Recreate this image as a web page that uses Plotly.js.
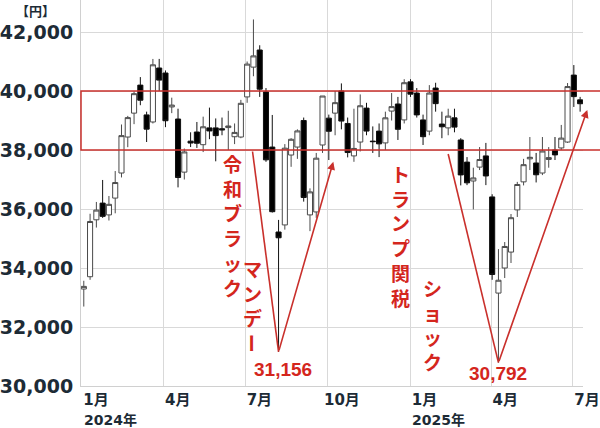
<!DOCTYPE html>
<html>
<head>
<meta charset="utf-8">
<script src="https://cdn.plot.ly/plotly-3.0.1.min.js"></script>
<style>
  html, body { margin: 0; padding: 0; background: #ffffff; }
  #chart { width: 600px; height: 428px; }
</style>
</head>
<body>
<div id="chart"></div>
<script>
// Nikkei 225, weekly candles (mid-week date of each trading week)
const weeks = [
  '2024-01-03','2024-01-10','2024-01-17','2024-01-24','2024-01-31',
  '2024-02-07','2024-02-14','2024-02-21','2024-02-28',
  '2024-03-06','2024-03-13','2024-03-20','2024-03-27',
  '2024-04-03','2024-04-10','2024-04-17','2024-04-24',
  '2024-05-01','2024-05-08','2024-05-15','2024-05-22','2024-05-29',
  '2024-06-05','2024-06-12','2024-06-19','2024-06-26',
  '2024-07-03','2024-07-10','2024-07-17','2024-07-24','2024-07-31',
  '2024-08-07','2024-08-14','2024-08-21','2024-08-28',
  '2024-09-04','2024-09-11','2024-09-18','2024-09-25',
  '2024-10-02','2024-10-09','2024-10-16','2024-10-23','2024-10-30',
  '2024-11-06','2024-11-13','2024-11-20','2024-11-27',
  '2024-12-04','2024-12-11','2024-12-18','2024-12-25',
  '2025-01-01','2025-01-08','2025-01-15','2025-01-22','2025-01-29',
  '2025-02-05','2025-02-12','2025-02-19','2025-02-26',
  '2025-03-05','2025-03-12','2025-03-19','2025-03-26',
  '2025-04-02','2025-04-09','2025-04-16','2025-04-23','2025-04-30',
  '2025-05-07','2025-05-14','2025-05-21','2025-05-28',
  '2025-06-04','2025-06-11','2025-06-18','2025-06-25',
  '2025-07-02','2025-07-09'
];
const openPx = [
  33288,33704,35634,36200,35800, 36370,37220,38440,39250, 40200,39190,38950,40780,
  40610,39460,39050,37250, 38300,38610,38180,38750,38750, 38720,38760,38450,38440,
  39800,40810,41390,39970,38100, 35220,35460,37830,38100, 39000,35800,35900,38170,
  39080,39250,40000,38900,37800, 38270,39420,38300,38640, 38240,39320,39560,39020,
  40310,39930,39020,38640,40100, 38880,38750,39090,38340, 37590,36950,37420,37800,
  36410,33150,34000,34540,35970, 36920,37700,37560,37220, 37680,38000,38070,38270,
  40540,39700
];
const highPx = [
  33568,35839,36239,36984,36441, 37287,38865,39156,39990, 40472,39300,41087,41088,
  40697,39774,39400,38050, 38600,38950,39130,39437,39070, 39100,39330,38900,39700,
  41000,42426,41550,40100,39188, 35630,38200,38400,38700, 39100,36700,37900,39830,
  39200,40000,40257,39100,39400, 39884,39600,38800,38900, 39300,39930,39800,40400,
  40400,40100,39200,40200,40280, 39300,39400,39400,38400, 37760,37400,38100,38240,
  36500,34640,34880,35830,36920, 37700,38440,37900,38440, 38100,38440,38850,40270,
  40880,39800
];
const lowPx = [
  32693,33600,35371,35700,35610, 35854,37070,38095,38876, 39518,38271,38900,40000,
  38774,39250,36733,37000, 38100,38070,37930,38367,37617, 38500,38000,38200,38400,
  39600,40500,39800,37600,35880, 31156,35300,37430,37700, 36250,35250,35700,37900,
  37660,38500,38700,37750,37600, 37950,38500,37900,37760, 38000,39000,38340,38900,
  39800,39100,38170,38500,39300, 38400,38500,38600,36800, 36810,35987,37320,36810,
  33600,30792,33660,34170,35730, 36800,37320,36900,37150, 37400,37660,38000,38240,
  39460,39300
];
const closePx = [
  33377,35577,35963,35751,36158, 36897,38487,39098,39910, 39688,38707,40888,40369,
  38992,39523,37068,37934, 38236,38229,38787,38646,38487, 38683,38814,38596,39583,
  40912,41190,40063,37667,35909, 35025,38062,38364,38647, 36391,36581,37723,39830,
  38635,39605,38981,37914,38053, 39500,38642,38284,38208, 39091,39470,38702,40281,
  39894,39190,38451,39931,39572, 38787,39149,38776,37155, 36887,37053,37677,37120,
  33780,33586,34730,35705,36831, 37503,37753,37160,37965, 37742,37834,38403,40150,
  39810,39569
];

// axis ticks
const monthTicks = ['2024-01-01','2024-04-01','2024-07-01','2024-10-01','2025-01-01','2025-04-01','2025-07-01'];
const monthText  = ['1月','4月','7月','10月','1月','4月','7月'];
const yearTicks  = ['2024-01-01','2025-01-01'];
const yearText   = ['2024年','2025年'];
const priceTicks = [30000,32000,34000,36000,38000,40000,42000];

// resistance band and the two sell-offs
const bandLow = 38000, bandHigh = 40000;
const selloffs = [
  { from: ['2024-07-09', 37950], low: ['2024-08-07', 31156], to: ['2024-10-07', 37600] },
  { from: ['2025-02-12', 37865], low: ['2025-04-09', 30792], to: ['2025-07-17', 39360] }
];

const RED_LINE = '#c9302c';
const RED_TEXT = '#d4261d';
const INK = '#1d2b36';

const margin = { l: 81, r: 17, t: 0, b: 42 };
const xRange = ['2023-12-30 21:16', '2025-07-12 05:00'];
const yRange = [30000, 43085];
const W = 600 - margin.l - margin.r;
const H = 428 - margin.t - margin.b;

const ms = s => Date.parse(s.replace(' ', 'T') + (s.length > 10 ? ':00Z' : 'T00:00:00Z'));
const X0 = ms(xRange[0]), X1 = ms(xRange[1]);
const toPaper = d => (ms(d) - X0) / (X1 - X0);
const pxX = d => toPaper(d) * W;
const pxY = v => (v - yRange[0]) / (yRange[1] - yRange[0]) * H;

const candles = {
  type: 'candlestick',
  x: weeks, open: openPx, high: highPx, low: lowPx, close: closePx,
  increasing: { line: { color: '#4a4a4a', width: 1 }, fillcolor: '#ffffff' },
  decreasing: { line: { color: '#111111', width: 1 }, fillcolor: '#000000' },
  whiskerwidth: 0,
  hoverinfo: 'skip',
  showlegend: false
};

const shapes = [
  { type: 'rect', xref: 'paper', yref: 'y', x0: 0, x1: 1.2, y0: bandLow, y1: bandHigh,
    line: { color: RED_LINE, width: 1.5 }, fillcolor: 'rgba(0,0,0,0)' }
];
const annotations = [];

selloffs.forEach(s => {
  shapes.push({ type: 'line', xref: 'paper', yref: 'y',
    x0: toPaper(s.from[0]), y0: s.from[1], x1: toPaper(s.low[0]), y1: s.low[1],
    line: { color: RED_LINE, width: 1.6 } });
  annotations.push({ xref: 'paper', yref: 'y', x: toPaper(s.to[0]), y: s.to[1], text: '',
    showarrow: true, arrowhead: 2, arrowsize: 1, arrowwidth: 1.6, arrowcolor: RED_LINE,
    standoff: 0, startstandoff: 0,
    ax: pxX(s.low[0]) - pxX(s.to[0]), ay: pxY(s.to[1]) - pxY(s.low[1]) });
});

const redFont = (size) => ({ family: 'Noto Sans CJK JP, sans-serif', size: size, color: RED_TEXT, weight: 700 });
const numFont = { family: 'Liberation Sans, Arial, sans-serif', size: 19, color: RED_TEXT, weight: 700 };
const vertical = str => Array.from(str).join('<br>');

function label(text, date, value, size, extra) {
  annotations.push(Object.assign({ xref: 'paper', yref: 'y', x: toPaper(date), y: value,
    text: text, showarrow: false, xanchor: 'center', yanchor: 'middle',
    font: redFont(size) }, extra || {}));
}

label(vertical('令和ブラック'), '2024-06-17', 35440, 19);
label(vertical('マンデ'), '2024-07-09', 33150, 19);
label('ー', '2024-07-09', 31450, 19, { textangle: 90 });
label(vertical('トランプ関税'), '2024-12-21', 35100, 19);
label(vertical('ショック'), '2025-01-25', 32100, 19);

const fmt = v => v.toLocaleString('en-US');
label(fmt(selloffs[0].low[1]), '2024-08-12', 30560, 19, { font: numFont });
label(fmt(selloffs[1].low[1]), '2025-04-08', 30425, 19, { font: numFont });

yearTicks.forEach((d, i) => {
  annotations.push({ xref: 'x', yref: 'paper', x: d, y: 0, yshift: -34,
    xanchor: 'left', yanchor: 'middle', showarrow: false, text: yearText[i],
    font: { family: 'DejaVu Sans, Noto Sans CJK JP, sans-serif', size: 14, color: INK, weight: 700 } });
});

annotations.push({ xref: 'paper', yref: 'paper', x: -0.09, y: 0.972, xanchor: 'center', yanchor: 'middle',
  showarrow: false, text: '【円】',
  font: { family: 'Noto Sans CJK JP, sans-serif', size: 13, color: INK, weight: 700 } });

const layout = {
  width: 600, height: 428,
  margin: margin,
  paper_bgcolor: '#ffffff', plot_bgcolor: '#ffffff',
  showlegend: false, hovermode: false,
  boxgap: 0.1, boxgroupgap: 0.1,
  xaxis: {
    type: 'date', range: xRange,
    rangeslider: { visible: false },
    tickvals: monthTicks, ticktext: monthText,
    ticks: '', ticklabelshift: 14, ticklabelstandoff: 0,
    showgrid: true, gridcolor: '#d9d9d9', gridwidth: 1,
    showline: true, linecolor: '#d0d0d0', linewidth: 1,
    zeroline: false,
    tickfont: { family: 'DejaVu Sans, Noto Sans CJK JP, sans-serif', size: 15, color: INK, weight: 700 }
  },
  yaxis: {
    range: yRange,
    tickvals: priceTicks, tickformat: ',d',
    ticks: '', ticklabelstandoff: 3,
    showgrid: true, gridcolor: '#d9d9d9', gridwidth: 1,
    showline: true, linecolor: '#d0d0d0', linewidth: 1,
    zeroline: false,
    tickfont: { family: 'DejaVu Sans, sans-serif', size: 19, color: INK, weight: 700 }
  },
  shapes: shapes,
  annotations: annotations
};

Plotly.newPlot('chart', [candles], layout, { staticPlot: true, displayModeBar: false });
</script>
</body>
</html>
